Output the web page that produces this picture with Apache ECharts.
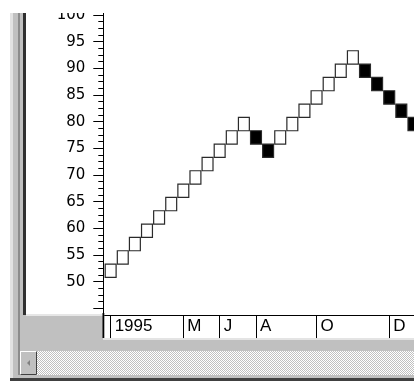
<!DOCTYPE html>
<html><head><meta charset="utf-8">
<script src="https://cdn.jsdelivr.net/npm/echarts@6/dist/echarts.min.js"></script>
<style>html,body{margin:0;padding:0;background:#fff}#c{width:414px;height:384px}</style>
</head><body><div id="c"></div>
<script>
// column (date) labels shown in the band under the plot
var columnLabels = ['1995','','','','','','M','','','J','','','A','','','','','O','','','','','','D','',''];
// brick open / close levels (up bricks white, down bricks black)
var brickOpen  = [50.8,53.3,55.8,58.3,60.8,63.3,65.8,68.3,70.8,73.3,75.8,78.3,
                  78.3,75.8,
                  75.8,78.3,80.8,83.3,85.8,88.3,90.8,
                  90.8,88.3,85.8,83.3,80.8];
var brickClose = [53.3,55.8,58.3,60.8,63.3,65.8,68.3,70.8,73.3,75.8,78.3,80.8,
                  75.8,73.3,
                  78.3,80.8,83.3,85.8,88.3,90.8,93.3,
                  88.3,85.8,83.3,80.8,78.3];
var yMin = 40, yMax = 105, yStep = 5, yFirstLabel = 50;

var data = brickOpen.map(function(o, i){ return [i, o, brickClose[i]]; });

var pc = document.createElement('canvas'); pc.width = 2; pc.height = 2;
var g = pc.getContext('2d');
g.fillStyle = '#ffffff'; g.fillRect(0,0,2,2);
g.fillStyle = '#c0c0c0'; g.fillRect(0,0,1,1); g.fillRect(1,1,1,1);
var GR = '#c0c0c0';

var chart = echarts.init(document.getElementById('c'), null, {renderer:'canvas'});
var showLbl = function(i, v){ return v !== ''; };
chart.setOption({
  animation: false,
  backgroundColor: '#fff',
  grid: { left: 104.6, top: -11.63, width: 314.9, height: 346.67, containLabel: false, outerBoundsMode: 'none' },
  xAxis: {
    type: 'category', data: columnLabels, boundaryGap: true, offset: -20, z: 20,
    axisLine: { lineStyle: { color: '#000', width: 1 } },
    axisTick: { show: true, alignWithLabel: true, interval: showLbl, length: 23, lineStyle: { color: '#000', width: 1 } },
    axisLabel: { interval: showLbl, align: 'left', padding: [0,0,0,4], margin: 3, lineHeight: 17,
                 fontFamily: 'Liberation Sans, Arial', fontSize: 17, color: '#000' },
    splitLine: { show: false }
  },
  yAxis: {
    type: 'value', min: yMin, max: yMax, interval: yStep, offset: 1.3,
    axisLine: { show: true, lineStyle: { color: '#000', width: 1 } },
    axisTick: { show: true, length: 10, lineStyle: { color: '#000', width: 1 } },
    minorTick: { show: true, splitNumber: 4, length: 5, lineStyle: { color: '#000', width: 1 } },
    axisLabel: { margin: 18, fontFamily: 'DejaVu Sans', fontSize: 15, color: '#000', padding: [3,0,0,0],
                 formatter: function(v){ return v >= yFirstLabel ? String(v) : ''; } },
    splitLine: { show: false }, minorSplitLine: { show: false }
  },
  series: [{
    type: 'custom', data: data, encode: { x: 0, y: [1, 2] }, clip: false,
    renderItem: function(params, api){
      var i = api.value(0), o = api.value(1), c = api.value(2);
      var top = api.coord([i, Math.max(o, c)]);
      var bot = api.coord([i, Math.min(o, c)]);
      var w = api.size([1, 0])[0];
      return { type: 'rect',
        shape: { x: top[0] - w/2 + 0.6, y: top[1], width: w - 1.2, height: bot[1] - top[1] },
        style: { fill: c > o ? '#ffffff' : '#000000', stroke: '#2a2a2a', lineWidth: 1.2 } };
    }
  }],
  graphic: { elements: [
    { type:'rect', z: 10, shape:{x:10,y:13,width:3,height:368}, style:{fill:'#e2e2e2'} },
    { type:'rect', z: 10, shape:{x:13,y:13,width:13,height:365}, style:{fill:GR} },
    { type:'rect', z: 10, shape:{x:18,y:13,width:2,height:365}, style:{fill:'#8c8c8c'} },
    { type:'rect', z: 10, shape:{x:23,y:13,width:3,height:302}, style:{fill:'#303030'} },
    { type:'rect', z: 10, shape:{x:26,y:315,width:388,height:36}, style:{fill:GR} },
    { type:'rect', z: 11, shape:{x:26,y:314,width:77,height:2}, style:{fill:'#e6e6e6'} },
    { type:'rect', z: 11, shape:{x:103,y:315,width:311,height:23}, style:{fill:'#ffffff'} },
    { type:'rect', z: 11, shape:{x:103,y:338,width:311,height:2}, style:{fill:'#e4e4e4'} },
    { type:'rect', z: 25, shape:{x:102.5,y:313,width:1.8,height:25}, style:{fill:'#000'} },
    { type:'rect', z: 11, shape:{x:20,y:351,width:394,height:24}, style:{fill:{image:pc, repeat:'repeat'}} },
    { type:'rect', z: 12, shape:{x:20.5,y:351.5,width:16,height:23}, style:{fill:GR, stroke:'#ffffff', lineWidth:1} },
    { type:'polyline', z: 13, shape:{points:[[36.5,351.5],[36.5,374.5],[20.5,374.5]]}, style:{stroke:'#404040', fill:null, lineWidth:1} },
    { type:'polygon', z: 13, shape:{points:[[27,363],[30,360],[30,366]]}, style:{fill:'#808080'} },
    { type:'rect', z: 10, shape:{x:13,y:375,width:401,height:3}, style:{fill:GR} },
    { type:'rect', z: 10, shape:{x:10,y:378,width:404,height:3}, style:{fill:'#404040'} },
    { type:'rect', z: 50, shape:{x:0,y:0,width:414,height:13}, style:{fill:'#ffffff'} }
  ]}
});
</script></body></html>
